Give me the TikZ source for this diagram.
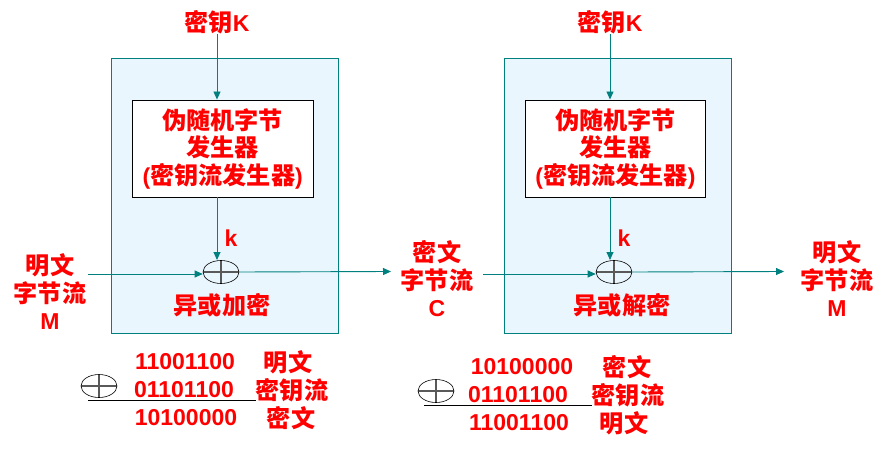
\documentclass[tikz,border=0pt]{standalone}
\usepackage{fontspec}
\setmainfont{Liberation Sans}[BoldFont={* Bold}]
\newfontfamily\cjk{Noto Sans CJK SC}[Scale=1.05]
\usetikzlibrary{shapes.geometric,arrows.meta}
\definecolor{tealc}{HTML}{00807F}
\definecolor{boxfill}{HTML}{EAF6FD}
\definecolor{redc}{HTML}{FF0000}
\tikzset{
  lbl/.style={text=redc,font=\fontsize{23}{27.5}\selectfont\bfseries,align=center,inner sep=0pt},
  outer/.style={draw=tealc,fill=boxfill,line width=0.9pt},
  gen/.style={draw=black,fill=white,line width=0.9pt,minimum width=180.5pt,minimum height=97pt,inner sep=0pt,text=redc,font=\fontsize{23}{27.5}\selectfont\bfseries,align=center},
  xorn/.style={ellipse,draw=black,line width=0.6pt,minimum width=36pt,minimum height=23pt,inner sep=0pt,
    path picture={\draw[black!65,line width=1.2pt] (path picture bounding box.north) -- (path picture bounding box.south) (path picture bounding box.west) -- (path picture bounding box.east);}},
  conn/.style={draw=tealc,line width=0.9pt,-{Triangle[length=8pt,width=7pt]}},
  plain/.style={draw=tealc,line width=0.9pt},
  rule/.style={draw=black,line width=0.9pt}
}
\begin{document}
\begin{tikzpicture}[x=1pt,y=-1pt]
\useasboundingbox (0,0) rectangle (888,473);
% ---------- left (encryption) ----------
\draw[outer] (111,58) rectangle (338,333);
\node[gen] (g1) at (222.75,148.5) {{\cjk 伪随机字节}\\{\cjk 发生器}\\({\cjk 密钥流发生器})};
\node[lbl] (k1) at (217,22) {{\cjk 密钥}K};
\node[xorn] (x1) at (221,272) {};
\node[lbl] (kk1) at (231,238) {k};
\node[lbl] (op1) at (222,305) {{\cjk 异或加密}};
\node[lbl] (m1) at (50,292) {{\cjk 明文}\\{\cjk 字节流}\\M};
\node[lbl] (c1) at (437,279) {{\cjk 密文}\\{\cjk 字节流}\\C};
\coordinate (in1) at (88,274);
\coordinate (out1) at (391,271.5);
\draw[conn] (k1.south) -- (k1.south |- g1.north);
\draw[conn] (k1.south |- g1.south) -- (217,260);
\draw[conn] (in1) -- (in1 -| x1.west);
\draw[conn] (x1.east) -- (out1);
% ---------- right (decryption) ----------
\draw[outer] (504,58) rectangle (731,333);
\node[gen] (g2) at (615.5,148.5) {{\cjk 伪随机字节}\\{\cjk 发生器}\\({\cjk 密钥流发生器})};
\node[lbl] (k2) at (610,22) {{\cjk 密钥}K};
\node[xorn] (x2) at (614,272) {};
\node[lbl] (kk2) at (624,238) {k};
\node[lbl] (op2) at (622,305) {{\cjk 异或解密}};
\node[lbl] (m2) at (837,279) {{\cjk 明文}\\{\cjk 字节流}\\M};
\coordinate (in2) at (483,274);
\coordinate (out2) at (784,271.5);
\draw[conn] (k2.south) -- (k2.south |- g2.north);
\draw[conn] (k2.south |- g2.south) -- (610,260);
\draw[conn] (in2) -- (in2 -| x2.west);
\draw[conn] (x2.east) -- (out2);
% ---------- bottom left ----------
\node[xorn] (bx1) at (99,386) {};
\node[lbl] (n11) at (185,362) {11001100};
\node[lbl] (n12) at (184,390) {01101100};
\node[lbl] (n13) at (186,418) {10100000};
\node[lbl] (t11) at (288,362) {{\cjk 明文}};
\node[lbl] (t12) at (292,390) {{\cjk 密钥流}};
\node[lbl] (t13) at (291,418) {{\cjk 密文}};
\coordinate (r1a) at (88,400);
\coordinate (r1b) at (256,400);
\draw[rule] (r1a) -- (r1b);
% ---------- bottom right ----------
\node[xorn] (bx2) at (436,391) {};
\node[lbl] (n21) at (522,367) {10100000};
\node[lbl] (n22) at (518,395) {01101100};
\node[lbl] (n23) at (519,423) {11001100};
\node[lbl] (t21) at (627,367) {{\cjk 密文}};
\node[lbl] (t22) at (628,395) {{\cjk 密钥流}};
\node[lbl] (t23) at (624,423) {{\cjk 明文}};
\coordinate (r2a) at (424,405);
\coordinate (r2b) at (592,405);
\draw[rule] (r2a) -- (r2b);
\end{tikzpicture}
\end{document}
